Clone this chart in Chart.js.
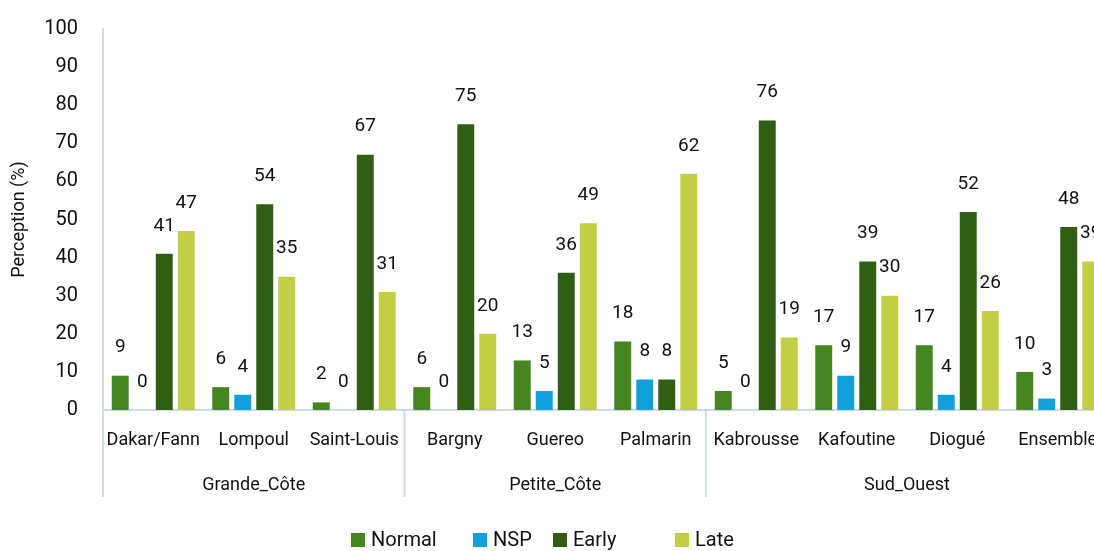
<!DOCTYPE html>
<html>
<head>
<meta charset="utf-8">
<script src="https://cdn.jsdelivr.net/npm/chart.js@4.4.1/dist/chart.umd.min.js"></script>
<style>
  html, body { margin: 0; padding: 0; background: #fff; overflow: hidden; }
  #wrap { width: 1112px; height: 551px; position: relative; }
</style>
</head>
<body>
<div id="wrap"><canvas id="c"></canvas></div>
<script>
const categories = ['Dakar/Fann', 'Lompoul', 'Saint-Louis', 'Bargny', 'Guereo', 'Palmarin', 'Kabrousse', 'Kafoutine', 'Diogué', 'Ensemble'];
const groups = ['Grande_Côte', 'Petite_Côte', 'Sud_Ouest'];
const groupSizes = [3, 3, 4];
const normalValues = [9, 6, 2, 6, 13, 18, 5, 17, 17, 10];
const nspValues = [0, 4, 0, 0, 5, 8, 0, 9, 4, 3];
const earlyValues = [41, 54, 67, 75, 36, 8, 76, 39, 52, 48];
const lateValues = [47, 35, 31, 20, 49, 62, 19, 30, 26, 39];
const seriesNames = ['Normal', 'NSP', 'Early', 'Late'];
const yTicks = [0, 10, 20, 30, 40, 50, 60, 70, 80, 90, 100];

const colors = ['#478520', '#139fdc', '#2f5e14', '#c2cf45'];
const FONT = '"Liberation Sans Narrow", Roboto, sans-serif';
const legendX = [351, 473, 553, 675];

const valueLabels = {
  id: 'valueLabels',
  afterDatasetsDraw(chart) {
    const ctx = chart.ctx;
    ctx.save();
    ctx.fillStyle = '#111';
    ctx.font = '19px ' + FONT;
    ctx.textAlign = 'center';
    ctx.textBaseline = 'middle';
    chart.data.datasets.forEach((ds, i) => {
      const meta = chart.getDatasetMeta(i);
      meta.data.forEach((bar, j) => {
        ctx.fillText(String(ds.data[j]), bar.x, bar.y - 28);
      });
    });
    ctx.restore();
  }
};

const groupAxis = {
  id: 'groupAxis',
  afterDraw(chart) {
    const ctx = chart.ctx;
    const x = chart.scales.x;
    const area = chart.chartArea;
    const bottom = area.bottom;
    ctx.save();
    ctx.strokeStyle = '#c9dcf0';
    ctx.lineWidth = 2;
    const step = x.getPixelForValue(1) - x.getPixelForValue(0);
    let idx = 0;
    const edges = [];
    groupSizes.forEach((n) => {
      edges.push(x.getPixelForValue(idx) - step / 2);
      idx += n;
    });
    const lastRight = x.getPixelForValue(idx - 1) + step / 2;
    edges.forEach((e) => {
      ctx.beginPath();
      ctx.moveTo(e, bottom);
      ctx.lineTo(e, bottom + 87);
      ctx.stroke();
    });
    ctx.fillStyle = '#111';
    ctx.font = '18px ' + FONT;
    ctx.textAlign = 'center';
    ctx.textBaseline = 'middle';
    groups.forEach((g, i) => {
      const l = edges[i];
      const r = i + 1 < edges.length ? edges[i + 1] : lastRight;
      ctx.fillText(g, (l + r) / 2, bottom + 75);
    });
    // legend
    ctx.font = '20px ' + FONT;
    ctx.textAlign = 'left';
    chart.data.datasets.forEach((ds, i) => {
      ctx.fillStyle = ds.backgroundColor;
      ctx.fillRect(legendX[i], 533, 14, 14);
      ctx.fillStyle = '#111';
      ctx.fillText(ds.label, legendX[i] + 20, 541);
    });
    ctx.restore();
  }
};

new Chart(document.getElementById('c'), {
  type: 'bar',
  data: {
    labels: categories,
    datasets: [
      { label: seriesNames[0], data: normalValues, backgroundColor: colors[0] },
      { label: seriesNames[1], data: nspValues, backgroundColor: colors[1] },
      { label: seriesNames[2], data: earlyValues, backgroundColor: colors[2] },
      { label: seriesNames[3], data: lateValues, backgroundColor: colors[3] }
    ]
  },
  options: {
    responsive: true,
    maintainAspectRatio: false,
    animation: false,
    layout: { padding: { top: 15, right: 4, left: 0, bottom: 0 } },
    datasets: { bar: { categoryPercentage: 0.876, barPercentage: 0.77 } },
    plugins: { legend: { display: false }, tooltip: { enabled: false } },
    scales: {
      x: {
        grid: { display: false },
        border: { display: true, color: '#c9dcf0', width: 2 },
        ticks: { color: '#111', font: { size: 18, family: FONT }, padding: 12, maxRotation: 0, autoSkip: false },
        afterFit(s) { s.height = 141; }
      },
      y: {
        min: 0, max: 100,
        afterBuildTicks(s) { s.ticks = yTicks.map(v => ({ value: v })); },
        grid: { display: false },
        border: { display: true, color: '#d9d9d9', width: 2 },
        ticks: { color: '#111', font: { size: 20, family: FONT }, padding: 17 },
        title: { display: true, text: 'Perception (%)', color: '#111', font: { size: 18, family: FONT }, padding: 9 },
        afterFit(s) { s.width = 103; }
      }
    }
  },
  plugins: [valueLabels, groupAxis]
});
</script>
</body>
</html>
